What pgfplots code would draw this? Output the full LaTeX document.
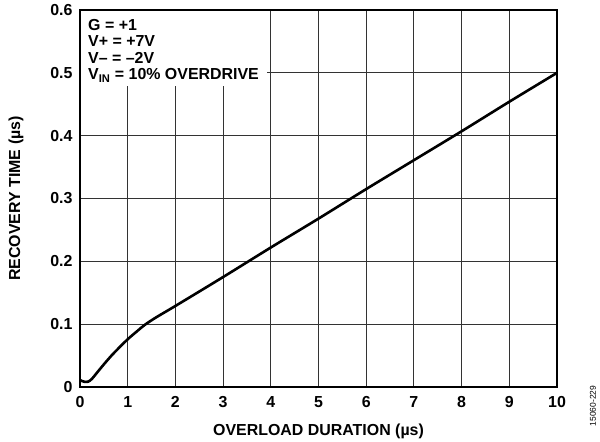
\documentclass[border=0pt]{standalone}
\usepackage{fontspec}
\setmainfont{Liberation Sans}
\usepackage{pgfplots}
\pgfplotsset{compat=1.18}
\begin{document}
\begin{tikzpicture}
\useasboundingbox (-80bp,-55bp) rectangle (520bp,387bp);
\begin{axis}[
  scale only axis,
  width=477bp, height=377bp,
  at={(0,0)}, anchor=south west,
  xmin=0, xmax=10, ymin=0, ymax=0.6,
  xtick={0,1,...,10},
  ytick={0,0.1,0.2,0.3,0.4,0.5,0.6},
  yticklabels={0,0.1,0.2,0.3,0.4,0.5,0.6},
  grid=major,
  major grid style={line width=1.1bp, black!80},
  major tick length=0pt,
  axis line style={line width=1.6bp, black},
  tick label style={font=\fontsize{16}{18}\selectfont\bfseries},
  /pgf/number format/assume math mode=true,
  xticklabel style={yshift=-6bp},
  yticklabel style={xshift=-4bp},
  xlabel={\fontsize{16}{18}\selectfont\bfseries OVERLOAD DURATION (µs)},
  ylabel={\fontsize{16}{18}\selectfont\bfseries RECOVERY TIME (µs)},
  xlabel style={at={(axis description cs:0.5,0)}, anchor=north, yshift=-33bp},
  ylabel style={at={(axis description cs:0,0.5)}, anchor=south, yshift=53bp},
  axis on top=false,
]
\addplot[line width=2.6bp, black, smooth, tension=0.5] coordinates {
(0,0.011) (0.08,0.0085) (0.17,0.0085) (0.25,0.013) (0.38,0.025) (0.5,0.036) (0.66,0.050) (0.8,0.061) (1,0.076) (1.2,0.089) (1.36,0.099) (1.6,0.111) (2,0.129) (3,0.175) (4,0.222) (5,0.268) (6,0.315) (7,0.361) (8,0.407) (9,0.454) (10,0.5)
};
\fill[white] (axis cs:0.02,0.479) rectangle (axis cs:3.93,0.598);
\node[anchor=north west, align=left, inner sep=0pt, font=\fontsize{16}{16.3}\selectfont\bfseries]
  at (axis cs:0.168,0.585) {G = +1\\V+ = +7V\\V– = –2V\\V\textsubscript{IN} = 10\% OVERDRIVE};
\end{axis}
\node[rotate=90, font=\fontsize{8.5}{9}\selectfont] at (513bp,-19bp) {15060-229};
\end{tikzpicture}
\end{document}
